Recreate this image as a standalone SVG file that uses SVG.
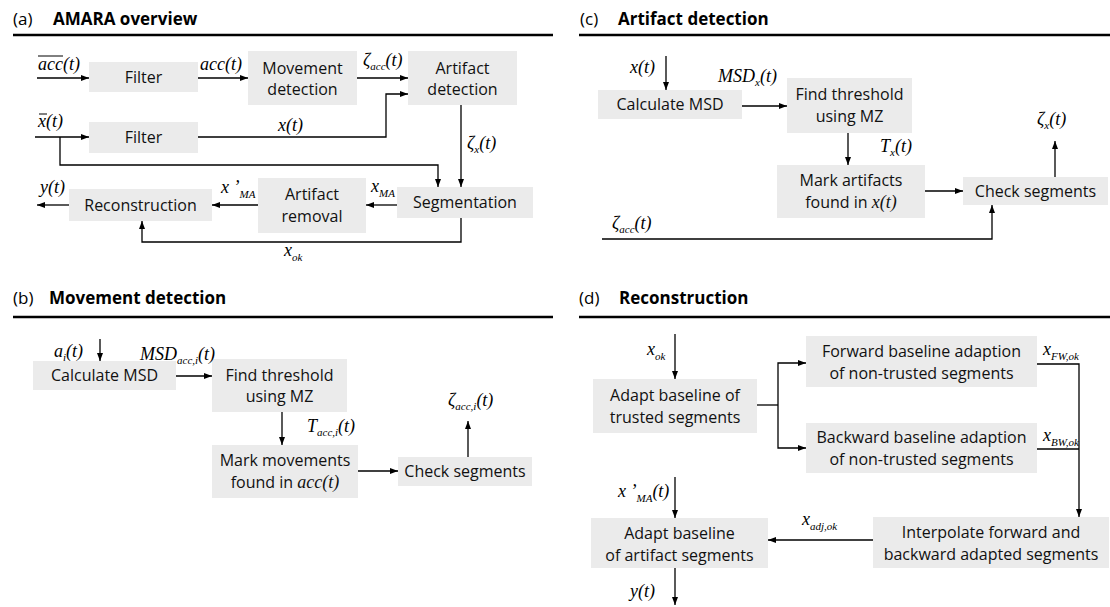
<svg xmlns="http://www.w3.org/2000/svg" width="1110" height="607" viewBox="0 0 1110 607">
<defs>
<marker id="ah" markerWidth="8" markerHeight="6" refX="8" refY="3" orient="auto" markerUnits="userSpaceOnUse"><path d="M0,0 L8,3 L0,6 Z" fill="#000"/></marker>
<style>
.box{fill:#ebebeb}
.t{font-family:"Open Sans","Noto Sans",sans-serif;font-size:16px;fill:#111;text-anchor:middle}
.m{font-family:"Liberation Serif",serif;font-style:italic;font-size:18px;fill:#000}
.i{font-family:"Liberation Serif",serif;font-style:italic;font-size:18px}
.s{font-size:11px}
.h{font-family:"Open Sans","Noto Sans",sans-serif;font-size:17px;fill:#000}
.hb{font-weight:bold}
.c{fill:none;stroke:#000;stroke-width:1.3}
.a{marker-end:url(#ah)}
.rule{stroke:#000;stroke-width:2.5}
.bar{stroke:#000;stroke-width:1}
</style>
</defs>
<rect width="1110" height="607" fill="#fff"/>

<g id="titles">
<text class="h" x="13" y="25">(a)</text><text class="h hb" x="53" y="25">AMARA overview</text>
<line class="rule" x1="13" y1="35" x2="553" y2="35"/>
<text class="h" x="580" y="25">(c)</text><text class="h hb" x="618" y="25">Artifact detection</text>
<line class="rule" x1="579" y1="35" x2="1110" y2="35"/>
<text class="h" x="13" y="304">(b)</text><text class="h hb" x="49" y="304">Movement detection</text>
<line class="rule" x1="13" y1="317" x2="553" y2="317"/>
<text class="h" x="579" y="304">(d)</text><text class="h hb" x="619" y="304">Reconstruction</text>
<line class="rule" x1="579" y1="317" x2="1110" y2="317"/>
</g>

<!-- Panel (a) -->
<g id="a-filter1"><rect class="box" x="89" y="62" width="109" height="30"/><text class="t" x="143.5" y="83">Filter</text></g>
<g id="a-movement"><rect class="box" x="248" y="51" width="109" height="54"/><text class="t" x="302.5" y="74">Movement</text><text class="t" x="302.5" y="95">detection</text></g>
<g id="a-artifact-detection"><rect class="box" x="408" y="51" width="109" height="54"/><text class="t" x="462.5" y="74">Artifact</text><text class="t" x="462.5" y="95">detection</text></g>
<g id="a-filter2"><rect class="box" x="89" y="122" width="109" height="31"/><text class="t" x="143.5" y="143">Filter</text></g>
<g id="a-reconstruction"><rect class="box" x="69" y="189" width="143" height="32"/><text class="t" x="140.5" y="211">Reconstruction</text></g>
<g id="a-artifact-removal"><rect class="box" x="258" y="178" width="108" height="55"/><text class="t" x="312" y="200">Artifact</text><text class="t" x="312" y="222">removal</text></g>
<g id="a-segmentation"><rect class="box" x="397" y="187" width="136" height="31"/><text class="t" x="465" y="208">Segmentation</text></g>

<!-- Panel (b) -->
<g id="b-calc"><rect class="box" x="33" y="361" width="143" height="29"/><text class="t" x="104.5" y="381">Calculate MSD</text></g>
<g id="b-find"><rect class="box" x="212" y="359" width="135" height="53"/><text class="t" x="279.5" y="381">Find threshold</text><text class="t" x="279.5" y="402">using MZ</text></g>
<g id="b-mark"><rect class="box" x="212" y="445" width="146" height="53"/><text class="t" x="285" y="466">Mark movements</text><text class="t" x="285" y="488">found in <tspan class="i">acc</tspan><tspan class="i">(t)</tspan></text></g>
<g id="b-check"><rect class="box" x="398" y="457" width="134" height="29"/><text class="t" x="465" y="477">Check segments</text></g>

<!-- Panel (c) -->
<g id="c-calc"><rect class="box" x="598" y="90" width="144" height="29"/><text class="t" x="670" y="110">Calculate MSD</text></g>
<g id="c-find"><rect class="box" x="787" y="78" width="125" height="55"/><text class="t" x="849.5" y="100">Find threshold</text><text class="t" x="849.5" y="122">using MZ</text></g>
<g id="c-mark"><rect class="box" x="777" y="165" width="148" height="53"/><text class="t" x="851" y="186">Mark artifacts</text><text class="t" x="851" y="208">found in <tspan class="i">x</tspan><tspan class="i">(t)</tspan></text></g>
<g id="c-check"><rect class="box" x="963" y="177" width="145" height="28"/><text class="t" x="1035.5" y="197">Check segments</text></g>

<!-- Panel (d) -->
<g id="d-trusted"><rect class="box" x="593" y="379" width="164" height="54"/><text class="t" x="675" y="401">Adapt baseline of</text><text class="t" x="675" y="423">trusted segments</text></g>
<g id="d-forward"><rect class="box" x="806" y="336" width="231" height="51"/><text class="t" x="921.5" y="357">Forward baseline adaption</text><text class="t" x="921.5" y="379">of non-trusted segments</text></g>
<g id="d-backward"><rect class="box" x="806" y="423" width="231" height="50"/><text class="t" x="921.5" y="443">Backward baseline adaption</text><text class="t" x="921.5" y="465">of non-trusted segments</text></g>
<g id="d-interpolate"><rect class="box" x="873" y="517" width="236" height="51"/><text class="t" x="991" y="538">Interpolate forward and</text><text class="t" x="991" y="560">backward adapted segments</text></g>
<g id="d-artifact"><rect class="box" x="591" y="518" width="177" height="50"/><text class="t" x="679.5" y="539">Adapt baseline</text><text class="t" x="679.5" y="561">of artifact segments</text></g>

<g id="connectors">
<path class="c a" d="M37,78 H89"/>
<path class="c a" d="M198,78 H248"/>
<path class="c a" d="M357,78 H408"/>
<path class="c a" d="M198,137 H386 V94 H408"/>
<path class="c a" d="M35,137 H89"/>
<path class="c a" d="M60,137 V165 H438 V187"/>
<path class="c a" d="M461,105 V187"/>
<path class="c a" d="M397,205 H366"/>
<path class="c a" d="M258,205 H212"/>
<path class="c a" d="M69,205 H37"/>
<path class="c a" d="M461,218 V242 H142 V221"/>

<path class="c a" d="M100,339 V361"/>
<path class="c a" d="M176,376 H212"/>
<path class="c a" d="M282,412 V445"/>
<path class="c a" d="M358,471 H398"/>
<path class="c a" d="M468,457 V421"/>

<path class="c a" d="M666,56 V90"/>
<path class="c a" d="M742,106 H787"/>
<path class="c a" d="M848,133 V165"/>
<path class="c a" d="M925,191 H963"/>
<path class="c a" d="M1055,177 V141"/>
<path class="c a" d="M602,239 H992 V205"/>

<path class="c a" d="M675,334 V379"/>
<path class="c" d="M757,405 H778"/>
<path class="c a" d="M778,405 V363 H806"/>
<path class="c a" d="M778,405 V448 H806"/>
<path class="c a" d="M1037,364 H1079 V517"/>
<path class="c" d="M1037,449 H1079"/>
<path class="c a" d="M873,540 H768"/>
<path class="c a" d="M675,477 V518"/>
<path class="c a" d="M675,568 V605"/>
</g>

<g id="labels">
<text class="m" x="38" y="70">acc(t)</text><line class="bar" x1="38" y1="56" x2="63" y2="56"/>
<text class="m" x="200" y="70">acc(t)</text>
<text class="m" x="363" y="66">ζ<tspan class="s" dy="4">acc</tspan><tspan dy="-4">(t)</tspan></text>
<text class="m" x="38" y="127">x(t)</text><line class="bar" x1="39" y1="114" x2="47" y2="114"/>
<text class="m" x="278" y="131">x(t)</text>
<text class="m" x="467" y="149">ζ<tspan class="s" dy="4">x</tspan><tspan dy="-4">(t)</tspan></text>
<text class="m" x="371" y="192">x<tspan class="s" dy="5">MA</tspan></text>
<text class="m" x="221" y="193">x ’<tspan class="s" dy="5">MA</tspan></text>
<text class="m" x="40" y="193">y(t)</text>
<text class="m" x="284" y="256">x<tspan class="s" dy="5">ok</tspan></text>

<text class="m" x="54" y="357">a<tspan class="s" dy="4">i</tspan><tspan dy="-4">(t)</tspan></text>
<text class="m" x="140" y="360">MSD<tspan class="s" dy="4">acc,i</tspan><tspan dy="-4">(t)</tspan></text>
<text class="m" x="307" y="432">T<tspan class="s" dy="4">acc,i</tspan><tspan dy="-4">(t)</tspan></text>
<text class="m" x="448" y="406">ζ<tspan class="s" dy="4">acc,i</tspan><tspan dy="-4">(t)</tspan></text>

<text class="m" x="630" y="73">x(t)</text>
<text class="m" x="718" y="82">MSD<tspan class="s" dy="4">x</tspan><tspan dy="-4">(t)</tspan></text>
<text class="m" x="880" y="152">T<tspan class="s" dy="4">x</tspan><tspan dy="-4">(t)</tspan></text>
<text class="m" x="1037" y="125">ζ<tspan class="s" dy="4">x</tspan><tspan dy="-4">(t)</tspan></text>
<text class="m" x="612" y="229">ζ<tspan class="s" dy="4">acc</tspan><tspan dy="-4">(t)</tspan></text>

<text class="m" x="647" y="355">x<tspan class="s" dy="5">ok</tspan></text>
<text class="m" x="1043" y="355">x<tspan class="s" dy="5">FW,ok</tspan></text>
<text class="m" x="1043" y="441">x<tspan class="s" dy="5">BW,ok</tspan></text>
<text class="m" x="802" y="525">x<tspan class="s" dy="5">adj,ok</tspan></text>
<text class="m" x="618" y="497">x ’<tspan class="s" dy="5">MA</tspan><tspan dy="-5">(t)</tspan></text>
<text class="m" x="630" y="597">y(t)</text>
</g>
</svg>
